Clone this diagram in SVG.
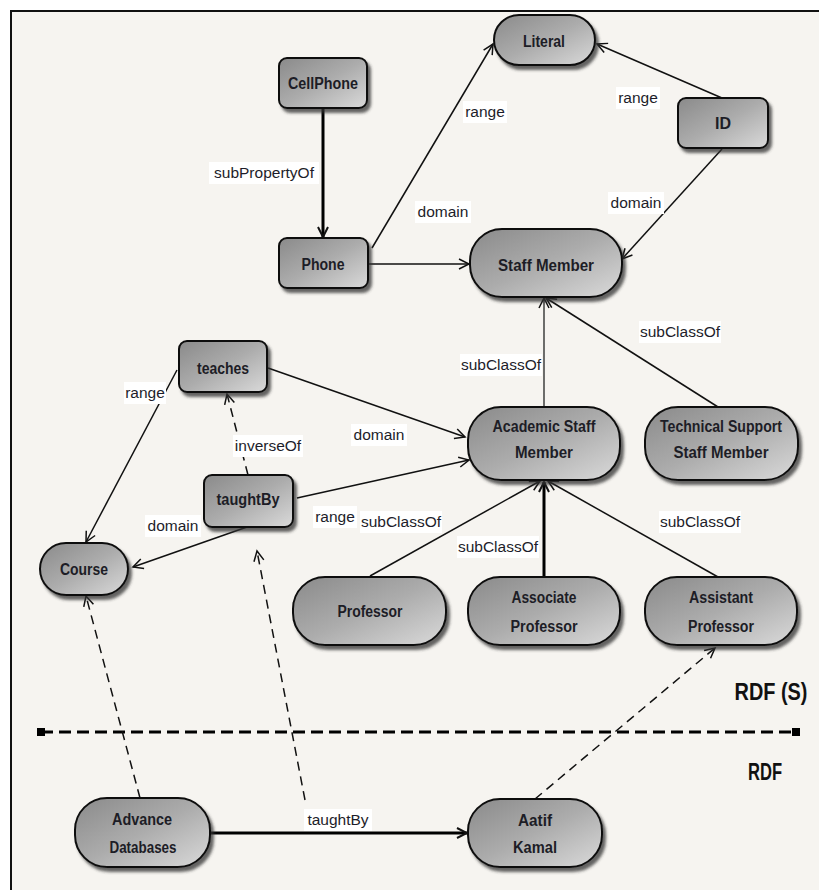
<svg xmlns="http://www.w3.org/2000/svg" width="819" height="890" viewBox="0 0 819 890">
<defs>
<linearGradient id="g" x1="0" y1="0" x2="1" y2="1">
<stop offset="0" stop-color="#8a8a8a"/>
<stop offset="0.5" stop-color="#acacac"/>
<stop offset="1" stop-color="#dadada"/>
</linearGradient>
<filter id="sh" x="-10%" y="-10%" width="130%" height="140%">
<feDropShadow dx="3" dy="4" stdDeviation="1.8" flood-color="#333" flood-opacity="0.75"/>
</filter>
<marker id="a" viewBox="-12 -7 14 14" refX="0" refY="0" markerWidth="14" markerHeight="14" markerUnits="userSpaceOnUse" orient="auto">
<path d="M-10,-5 L0,0 L-10,5" fill="none" stroke="#111" stroke-width="1.5"/>
</marker>
<marker id="at" viewBox="-12 -7 14 14" refX="0" refY="0" markerWidth="14" markerHeight="14" markerUnits="userSpaceOnUse" orient="auto">
<path d="M-10,-5 L0,0 L-10,5" fill="none" stroke="#111" stroke-width="2"/>
</marker>
</defs>
<style>
.n{fill:url(#g);stroke:#111;stroke-width:2;filter:url(#sh)}
.t{font-family:"Liberation Sans",Arial,sans-serif;font-weight:bold;font-size:16px;fill:#1d1d26;text-anchor:middle}
.l{font-family:"Liberation Sans",Arial,sans-serif;font-size:15.5px;fill:#1d1d2a;text-anchor:middle}
.lb{fill:#ffffff}
.e{fill:none;stroke:#111;stroke-width:1.5;marker-end:url(#a)}
.k{fill:none;stroke:#000;stroke-width:3;marker-end:url(#at)}
.d{fill:none;stroke:#111;stroke-width:1.5;stroke-dasharray:9,6;marker-end:url(#a)}
</style>
<rect x="0" y="0" width="819" height="890" fill="#ffffff"/>
<rect x="11" y="11" width="820" height="890" fill="#f6f4f0" stroke="#111" stroke-width="2"/>

<g id="separator">
<line x1="41" y1="732" x2="796" y2="732" stroke="#000" stroke-width="3" stroke-dasharray="12,6"/>
<rect x="37" y="728" width="8" height="8" fill="#000"/>
<rect x="792" y="728" width="8" height="8" fill="#000"/>
<text x="771" y="700" font-family="Liberation Sans, Arial, sans-serif" font-weight="bold" font-size="23" fill="#111" text-anchor="middle" textLength="73" lengthAdjust="spacingAndGlyphs">RDF (S)</text>
<text x="765" y="780" font-family="Liberation Sans, Arial, sans-serif" font-weight="bold" font-size="23" fill="#111" text-anchor="middle" textLength="34" lengthAdjust="spacingAndGlyphs">RDF</text>
</g>

<g id="connectors">
<line class="k" x1="323" y1="108" x2="323" y2="237"/>
<line class="e" x1="372" y1="248" x2="493" y2="44"/>
<line class="e" x1="368" y1="264" x2="469" y2="264"/>
<line class="e" x1="722" y1="98" x2="597" y2="44"/>
<line class="e" x1="722" y1="149" x2="622" y2="259"/>
<line class="e" x1="544" y1="407" x2="544" y2="298" style="stroke-width:1.2"/>
<line class="e" x1="718" y1="407" x2="546" y2="298"/>
<line class="e" x1="177" y1="370" x2="86" y2="542"/>
<line class="e" x1="268" y1="368" x2="465" y2="437"/>
<line class="d" x1="248" y1="475" x2="227" y2="394"/>
<line class="e" x1="297" y1="498" x2="469" y2="460"/>
<line class="e" x1="247" y1="527" x2="133" y2="567"/>
<line class="e" x1="370" y1="576" x2="540" y2="481"/>
<line class="k" x1="544" y1="577" x2="544" y2="482"/>
<line class="e" x1="718" y1="577" x2="548" y2="481"/>
<line class="d" x1="140" y1="798" x2="86" y2="596"/>
<line class="d" x1="305" y1="800" x2="257" y2="551"/>
<line class="k" x1="210" y1="833" x2="467" y2="833"/>
<line class="d" x1="535" y1="799" x2="715" y2="648"/>

<rect class="lb" x="209" y="162" width="110" height="22"/><text class="l" x="264" y="178">subPropertyOf</text>
<rect class="lb" x="463" y="101" width="44" height="22"/><text class="l" x="485" y="117">range</text>
<rect class="lb" x="415" y="201" width="56" height="22"/><text class="l" x="443" y="217">domain</text>
<rect class="lb" x="616" y="87" width="44" height="22"/><text class="l" x="638" y="103">range</text>
<rect class="lb" x="608" y="192" width="56" height="22"/><text class="l" x="636" y="208">domain</text>
<rect class="lb" x="460" y="354" width="82" height="22"/><text class="l" x="501" y="370">subClassOf</text>
<rect class="lb" x="639" y="321" width="82" height="22"/><text class="l" x="680" y="337">subClassOf</text>
<rect class="lb" x="124" y="382" width="42" height="22"/><text class="l" x="145" y="398">range</text>
<rect class="lb" x="351" y="424" width="56" height="22"/><text class="l" x="379" y="440">domain</text>
<rect class="lb" x="233" y="435" width="70" height="22"/><text class="l" x="268" y="451">inverseOf</text>
<rect class="lb" x="313" y="506" width="44" height="22"/><text class="l" x="335" y="522">range</text>
<rect class="lb" x="145" y="515" width="56" height="22"/><text class="l" x="173" y="531">domain</text>
<rect class="lb" x="360" y="511" width="82" height="22"/><text class="l" x="401" y="527">subClassOf</text>
<rect class="lb" x="457" y="536" width="82" height="22"/><text class="l" x="498" y="552">subClassOf</text>
<rect class="lb" x="659" y="511" width="82" height="22"/><text class="l" x="700" y="527">subClassOf</text>
<rect class="lb" x="304" y="809" width="68" height="22"/><text class="l" x="338" y="825">taughtBy</text>
</g>

<g id="cellphone"><rect class="n" x="279" y="58" width="88" height="50" rx="8"/><text class="t" x="323" y="89" textLength="70" lengthAdjust="spacingAndGlyphs">CellPhone</text></g>
<g id="phone"><rect class="n" x="279" y="238" width="89" height="50" rx="8"/><text class="t" x="323" y="270" textLength="43" lengthAdjust="spacingAndGlyphs">Phone</text></g>
<g id="literal"><rect class="n" x="494" y="15" width="101" height="50" rx="25"/><text class="t" x="544" y="47" textLength="42" lengthAdjust="spacingAndGlyphs">Literal</text></g>
<g id="id"><rect class="n" x="678" y="98" width="90" height="50" rx="8"/><text class="t" x="723" y="129" textLength="16" lengthAdjust="spacingAndGlyphs">ID</text></g>
<g id="staff-member"><rect class="n" x="470" y="229" width="152" height="68" rx="32"/><text class="t" x="546" y="271" textLength="96" lengthAdjust="spacingAndGlyphs">Staff Member</text></g>
<g id="teaches"><rect class="n" x="179" y="341" width="88" height="51" rx="8"/><text class="t" x="223" y="374" textLength="52" lengthAdjust="spacingAndGlyphs">teaches</text></g>
<g id="taughtby"><rect class="n" x="204" y="475" width="89" height="52" rx="8"/><text class="t" x="248" y="505" textLength="63" lengthAdjust="spacingAndGlyphs">taughtBy</text></g>
<g id="course"><rect class="n" x="40" y="543" width="88" height="52" rx="26"/><text class="t" x="84" y="575" textLength="48" lengthAdjust="spacingAndGlyphs">Course</text></g>
<g id="academic-staff-member"><rect class="n" x="468" y="407" width="152" height="73" rx="33"/><text class="t" x="544" y="432" textLength="103" lengthAdjust="spacingAndGlyphs">Academic Staff</text><text class="t" x="544" y="458" textLength="58" lengthAdjust="spacingAndGlyphs">Member</text></g>
<g id="technical-support-staff-member"><rect class="n" x="645" y="407" width="153" height="73" rx="33"/><text class="t" x="721" y="432" textLength="122" lengthAdjust="spacingAndGlyphs">Technical Support</text><text class="t" x="721" y="458" textLength="95" lengthAdjust="spacingAndGlyphs">Staff Member</text></g>
<g id="professor"><rect class="n" x="293" y="577" width="153" height="68" rx="32"/><text class="t" x="370" y="617" textLength="65" lengthAdjust="spacingAndGlyphs">Professor</text></g>
<g id="associate-professor"><rect class="n" x="468" y="577" width="152" height="68" rx="32"/><text class="t" x="544" y="603" textLength="65" lengthAdjust="spacingAndGlyphs">Associate</text><text class="t" x="544" y="632" textLength="67" lengthAdjust="spacingAndGlyphs">Professor</text></g>
<g id="assistant-professor"><rect class="n" x="645" y="577" width="152" height="68" rx="32"/><text class="t" x="721" y="603" textLength="64" lengthAdjust="spacingAndGlyphs">Assistant</text><text class="t" x="721" y="632" textLength="66" lengthAdjust="spacingAndGlyphs">Professor</text></g>
<g id="advance-databases"><rect class="n" x="75" y="798" width="135" height="69" rx="32"/><text class="t" x="142" y="825" textLength="60" lengthAdjust="spacingAndGlyphs">Advance</text><text class="t" x="143" y="853" textLength="67" lengthAdjust="spacingAndGlyphs">Databases</text></g>
<g id="aatif-kamal"><rect class="n" x="468" y="799" width="134" height="68" rx="32"/><text class="t" x="535" y="826" textLength="34" lengthAdjust="spacingAndGlyphs">Aatif</text><text class="t" x="535" y="853" textLength="44" lengthAdjust="spacingAndGlyphs">Kamal</text></g>
</svg>
